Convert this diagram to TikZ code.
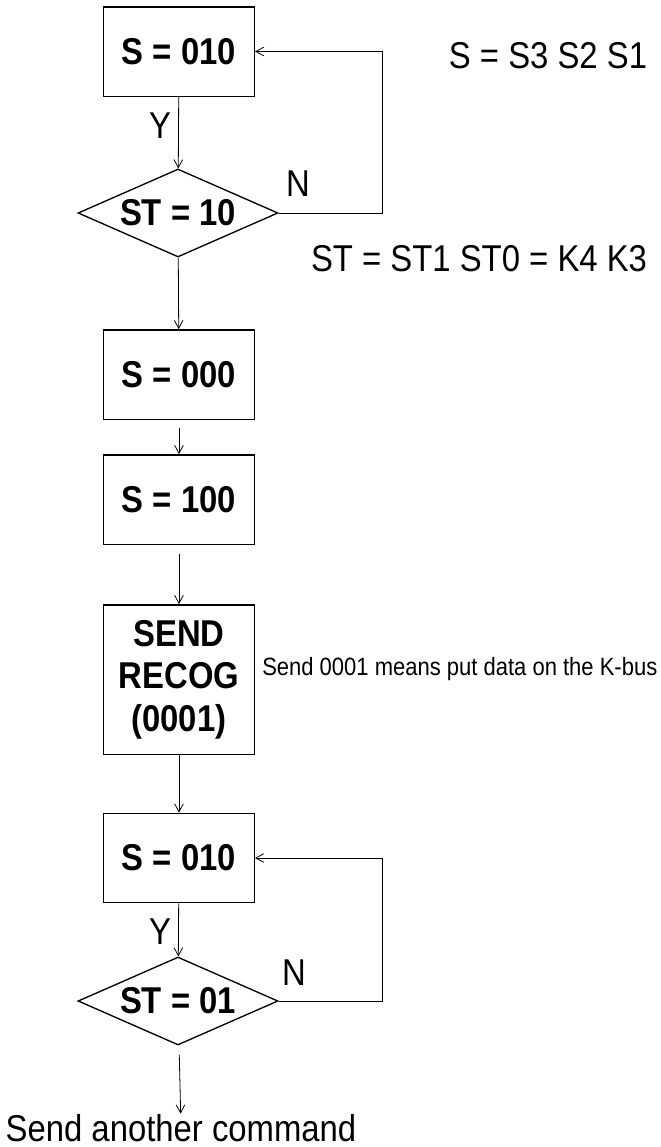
\documentclass[tikz,border=0pt]{standalone}
\usepackage{fontspec}
\setmainfont{Liberation Sans}[FakeStretch=0.88]
\usetikzlibrary{shapes.geometric}
\usetikzlibrary{arrows.meta}
\usetikzlibrary{positioning}

\begin{document}
\begin{tikzpicture}[x=0.75pt,y=-0.75pt,>={Straight Barb[length=6pt,width=6.5pt]},
  box/.style={draw,line width=1pt,minimum width=113pt,minimum height=67pt,inner sep=0pt,align=center,font=\fontsize{28}{32}\selectfont\bfseries},
  cond/.style={draw,diamond,line width=1pt,aspect=2.27,minimum width=150pt,minimum height=66pt,inner sep=0pt,font=\fontsize{28}{30}\selectfont\bfseries},
  lbl/.style={inner sep=0pt,font=\fontsize{28}{30}\selectfont},
  flow/.style={->,line width=0.6pt}]
  \useasboundingbox (0,0) rectangle (661,1147);

  \node[box] (s1) at (179,51.5) {S = 010};
  \node[cond] (t1) at (178,213) {ST = 10};
  \node[box] (s2) at (179,374.5) {S = 000};
  \node[box] (s3) at (179,499.5) {S = 100};
  \node[box,minimum height=112pt] (rec) at (179,679.5) {SEND\\RECOG\\(0001)};
  \node[box] (s4) at (179,858) {S = 010};
  \node[cond] (t2) at (178,1001) {ST = 01};
  \node[lbl,anchor=base] (next) at (181,1141) {Send another command};

  \node[lbl] (y1) at (160,126) {Y};
  \node[lbl] (n1) at (298,184) {N};
  \node[lbl] (y2) at (160,932) {Y};
  \node[lbl] (n2) at (294,973) {N};

  \node[lbl,anchor=base] (sdef) at (548,68) {S = S3 S2 S1};
  \node[lbl,anchor=base] (stdef) at (479,271) {ST = ST1 ST0 = K4 K3};
  \node[lbl,anchor=base west,font=\fontsize{18.75}{20}\selectfont] (note) at (262,675) {Send 0001 means put data on the K-bus};

  \coordinate (back) at (382,0);

  \draw[flow](s1)--(t1);
  \draw[flow](t1.east)--(t1.east-|back)|-(s1.east);
  \draw[flow](t1)--(s2);
  \draw[flow,shorten <=6pt](s2)--(s3);
  \draw[flow,shorten <=7pt](s3)--(rec);
  \draw[flow](rec)--(s4);
  \draw[flow](s4)--(t2);
  \draw[flow](t2.east)--(t2.east-|back)|-(s4.east);
  \draw[flow,shorten <=7pt](t2)--(next);
\end{tikzpicture}
\end{document}
